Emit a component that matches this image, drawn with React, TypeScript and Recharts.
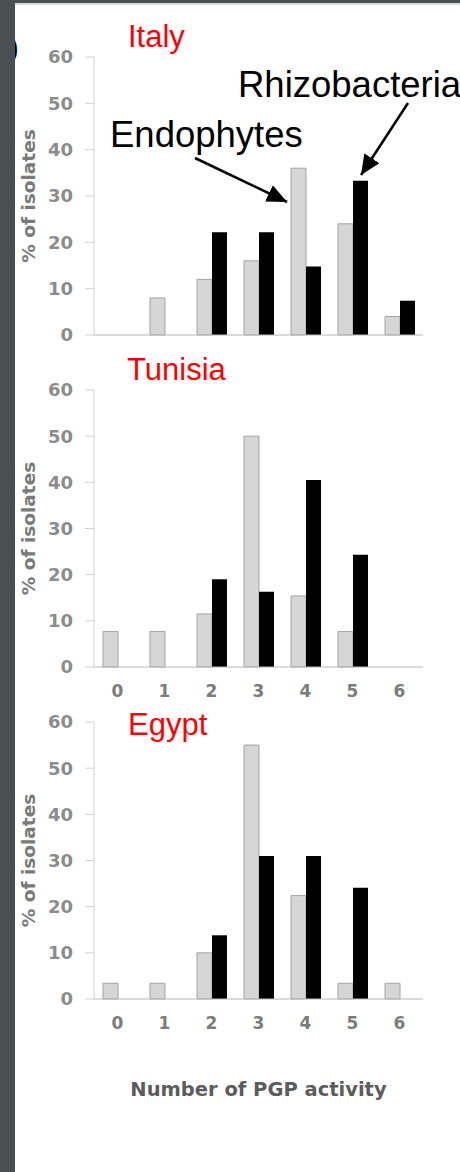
import { BarChart, Bar, XAxis, YAxis } from 'recharts';

// x categories: number of PGP activities
const categories = ['0', '1', '2', '3', '4', '5', '6'];
const yTicks = [0, 10, 20, 30, 40, 50, 60];

// % of isolates per panel
const italyEndophytes = [0, 8, 12, 16, 36, 24, 4];
const italyRhizobacteria = [0, 0, 22.2, 22.2, 14.8, 33.3, 7.4];
const tunisiaEndophytes = [7.7, 7.7, 11.5, 50, 15.4, 7.7, 0];
const tunisiaRhizobacteria = [0, 0, 19, 16.3, 40.5, 24.3, 0];
const egyptEndophytes = [3.4, 3.4, 10, 55, 22.4, 3.4, 3.4];
const egyptRhizobacteria = [0, 0, 13.8, 31, 31, 24.1, 0];

const axisFont = '"DejaVu Sans", Verdana, sans-serif';
const titleFont = '"Liberation Sans", Arial, sans-serif';

function buildRows(endo: number[], rhizo: number[]) {
  return categories.map((c, i) => ({ activity: c, endophytes: endo[i], rhizobacteria: rhizo[i] }));
}

function renderYLabel(props: any) {
  const vb = props.viewBox;
  const cx = vb.x + 15;
  const cy = vb.y + vb.height / 2;
  return (
    <text
      x={cx}
      y={cy}
      transform={`rotate(-90 ${cx} ${cy})`}
      textAnchor="middle"
      dominantBaseline="middle"
      fill="#7a7a7a"
      fontSize={18.5}
      fontWeight="bold"
      fontFamily={axisFont}
    >
      % of isolates
    </text>
  );
}

function renderXTitle(props: any) {
  const vb = props.viewBox;
  return (
    <text
      x={vb.x + vb.width / 2}
      y={vb.y + 91}
      textAnchor="middle"
      dominantBaseline="middle"
      fill="#5c5c5c"
      fontSize={19.5}
      fontWeight="bold"
      fontFamily={axisFont}
    >
      Number of PGP activity
    </text>
  );
}

type PanelProps = {
  rows: { activity: string; endophytes: number; rhizobacteria: number }[];
  top: number;
  height: number;
  plotTop: number;
  plotBottom: number;
  xAxisHeight: number;
  showXTicks: boolean;
  xTitle?: boolean;
};

function Panel({ rows, top, height, plotTop, plotBottom, xAxisHeight, showXTicks, xTitle }: PanelProps) {
  return (
    <div style={{ position: 'absolute', left: 0, top, width: 460, height }}>
      <BarChart
        width={460}
        height={height}
        data={rows}
        margin={{ top: plotTop, right: 37, left: 15, bottom: height - plotBottom - xAxisHeight }}
        barGap={0}
        barCategoryGap={9}
      >
        <XAxis
          dataKey="activity"
          height={xAxisHeight}
          axisLine={{ stroke: '#b8b8b8' }}
          tickLine={false}
          tickSize={0}
          tickMargin={18}
          tick={showXTicks ? { fill: '#7c7c7c', fontSize: 17, fontWeight: 'bold', fontFamily: axisFont } : false}
          label={xTitle ? renderXTitle : undefined}
        />
        <YAxis
          type="number"
          domain={[0, 60]}
          ticks={yTicks}
          interval={0}
          width={79}
          axisLine={{ stroke: '#d2d2d2' }}
          tickLine={{ stroke: '#d2d2d2' }}
          tickSize={9}
          tickMargin={12}
          tick={{ fill: '#8c8c8c', fontSize: 18, fontWeight: 'bold', fontFamily: axisFont }}
          label={renderYLabel}
        />
        <Bar dataKey="endophytes" fill="#d6d6d6" stroke="#a4a4a4" strokeWidth={1} isAnimationActive={false} />
        <Bar dataKey="rhizobacteria" fill="#000" isAnimationActive={false} />
      </BarChart>
    </div>
  );
}

export default function App() {
  return (
    <div style={{ position: 'absolute', left: 0, top: 0, width: 460, height: 1172, background: '#fff', overflow: 'hidden' }}>
      <Panel rows={buildRows(italyEndophytes, italyRhizobacteria)} top={0} height={370} plotTop={57} plotBottom={335} xAxisHeight={35} showXTicks={false} />
      <Panel rows={buildRows(tunisiaEndophytes, tunisiaRhizobacteria)} top={350} height={370} plotTop={40} plotBottom={317} xAxisHeight={45} showXTicks />
      <Panel rows={buildRows(egyptEndophytes, egyptRhizobacteria)} top={700} height={472} plotTop={22} plotBottom={299} xAxisHeight={120} showXTicks xTitle />
      <svg width={460} height={1172} style={{ position: 'absolute', left: 0, top: 0, pointerEvents: 'none' }}>
        <defs>
          <marker id="head" markerUnits="userSpaceOnUse" markerWidth={22} markerHeight={18} refX={20} refY={9} orient="auto">
            <path d="M0,0 L20,9 L0,18 Z" fill="#000" />
          </marker>
        </defs>
        <text x={9} y={57} fontSize={28} fontFamily={titleFont} fontWeight="bold" fill="#000">)</text>
        <rect x={0} y={0} width={15} height={1172} fill="#4a4f51" />
        <rect x={15} y={0} width={445} height={3} fill="#4a4f51" />
        <rect x={15} y={3} width={445} height={2} fill="#dadada" />
        <text x={128} y={47} fontSize={31} fontFamily={titleFont} fill="#ff0000">Italy</text>
        <text x={127} y={380} fontSize={31} fontFamily={titleFont} fill="#ff0000">Tunisia</text>
        <text x={128} y={735} fontSize={31} fontFamily={titleFont} fill="#ff0000">Egypt</text>
        <text x={238} y={97} fontSize={36.5} fontFamily={titleFont} fill="#000">Rhizobacteria</text>
        <text x={110} y={147} fontSize={36.5} fontFamily={titleFont} fill="#000">Endophytes</text>
        <line x1={195} y1={158} x2={287} y2={202} stroke="#000" strokeWidth={2.5} markerEnd="url(#head)" />
        <line x1={408} y1={103} x2={361} y2={175} stroke="#000" strokeWidth={2.5} markerEnd="url(#head)" />
      </svg>
    </div>
  );
}
